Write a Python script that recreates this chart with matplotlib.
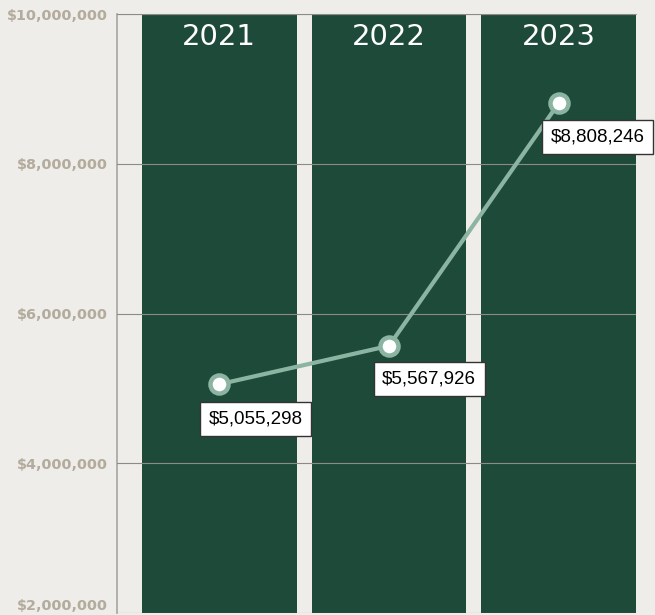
import matplotlib
matplotlib.use('Agg')
import numpy as np
from matplotlib import pyplot as plt
from matplotlib.ticker import FuncFormatter

years = ['2021', '2022', '2023']
revenue = [5055298, 5567926, 8808246]
y_ticks = [2000000, 4000000, 6000000, 8000000, 10000000]

bg = '#efede9'
bar_col = '#1e4a3a'
line_col = '#8cb4a2'
tick_col = '#b3ab9c'
grid_col = '#8c8b86'

fig = plt.figure(figsize=(6.55, 6.15), dpi=100, facecolor=bg)
ax = fig.add_axes([117 / 655, 2 / 615, (636 - 117) / 655, (613 - 14) / 615])
ax.set_facecolor(bg)

x = np.arange(len(years))
ymin, ymax = y_ticks[0], y_ticks[-1]
# full height background columns, one per year
ax.bar(x, ymax - ymin, bottom=ymin, width=0.912, color=bar_col, zorder=1)
for xi, yr in zip(x, years):
    ax.text(xi, ymax - 0.31e6, yr, ha='center', va='center', color='white',
            fontsize=21, family='DejaVu Sans', zorder=5)

ax.set_xlim(-0.603, 2.456)
ax.set_ylim(ymin, ymax)
ax.set_yticks(y_ticks)
ax.yaxis.set_major_formatter(FuncFormatter(lambda v, p: f'${v:,.0f}'))
ax.set_xticks([])
ax.grid(axis='y', color=grid_col, linewidth=0.8, zorder=2)
ax.set_axisbelow(False)
ax.tick_params(axis='y', length=0, pad=6.5, labelcolor=tick_col, labelsize=10.4)
for lab in ax.get_yticklabels():
    lab.set_fontweight('bold')
ax.get_yticklabels()[0].set_verticalalignment('bottom')

for side in ['right', 'bottom']:
    ax.spines[side].set_visible(False)
ax.spines['left'].set_color('#a8a6a0')
ax.spines['top'].set_color('#a8a6a0')
ax.spines['left'].set_linewidth(1.2)

ax.plot(x, revenue, color=line_col, linewidth=3, zorder=6,
        marker='o', markersize=13, markerfacecolor='white',
        markeredgecolor=line_col, markeredgewidth=3.2)

offsets = [(26, -25), (29, -24), (28, -24)]
for xi, v, off in zip(x, revenue, offsets):
    ax.annotate(f'${v:,.0f}', (xi, v), xytext=off, textcoords='offset points',
                ha='center', va='center', fontsize=13.5, family='Liberation Sans',
                color='black', zorder=7, annotation_clip=False,
                bbox=dict(boxstyle='square,pad=0.45', facecolor='white',
                          edgecolor='#333333', linewidth=1))

fig.savefig('out.png', dpi=100, facecolor=bg)
